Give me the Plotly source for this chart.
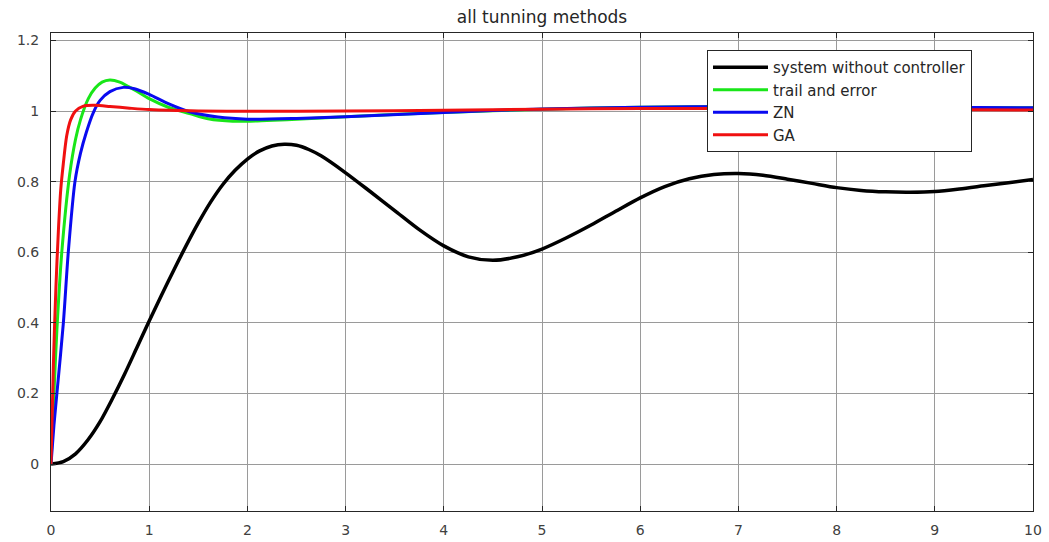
import plotly.graph_objects as go

# ---- data ----
t_open = [0, 0.125, 0.25, 0.375, 0.5, 0.625, 0.75, 0.875, 1.0, 1.125, 1.25, 1.375, 1.5,
          1.625, 1.75, 1.875, 2.0, 2.125, 2.25, 2.375, 2.5, 2.625, 2.75, 3.0, 3.25, 3.5,
          3.75, 4.0, 4.25, 4.5, 4.75, 5.0, 5.25, 5.5, 5.75, 6.0, 6.25, 6.5, 6.75, 7.0,
          7.25, 7.5, 7.75, 8.0, 8.25, 8.5, 8.75, 9.0, 9.25, 9.5, 9.75, 10]
y_open = [0, 0.007, 0.029, 0.068, 0.12, 0.185, 0.255, 0.33, 0.405, 0.478, 0.549, 0.618,
          0.683, 0.742, 0.792, 0.832, 0.864, 0.887, 0.901, 0.906, 0.903, 0.891, 0.873,
          0.825, 0.772, 0.718, 0.664, 0.618, 0.587, 0.577, 0.587, 0.609, 0.641, 0.677,
          0.716, 0.754, 0.786, 0.808, 0.82, 0.823, 0.818, 0.807, 0.795, 0.783, 0.775,
          0.771, 0.770, 0.772, 0.779, 0.788, 0.797, 0.806]

t_trial = [0, 0.03, 0.06, 0.11, 0.19, 0.25, 0.3, 0.38, 0.45, 0.52, 0.6, 0.7, 0.85, 1.0, 1.2,
           1.41, 1.6, 1.85, 2.2, 2.6, 3.0, 4.0, 5.0, 6.0, 7.0, 8.0, 9.0, 10]
y_trial = [0, 0.2, 0.38, 0.6, 0.82, 0.92, 0.975, 1.035, 1.065, 1.082, 1.088, 1.082, 1.06,
           1.035, 1.01, 0.993, 0.978, 0.971, 0.973, 0.978, 0.984, 0.996, 1.005, 1.011,
           1.013, 1.012, 1.01, 1.009]

t_zn = [0, 0.03, 0.06, 0.126, 0.176, 0.244, 0.3, 0.36, 0.43, 0.5, 0.6, 0.736, 0.85, 1.0,
        1.2, 1.41, 1.7, 2.0, 2.5, 3.0, 4.0, 5.0, 6.0, 7.0, 8.0, 9.0, 10]
y_zn = [0, 0.11, 0.2, 0.4, 0.6, 0.8, 0.88, 0.94, 0.995, 1.03, 1.055, 1.067, 1.063, 1.047,
        1.02, 0.998, 0.983, 0.977, 0.979, 0.984, 0.996, 1.006, 1.011, 1.013, 1.013, 1.011,
        1.009]

t_ga = [0, 0.024, 0.05, 0.075, 0.1, 0.125, 0.16, 0.2, 0.25, 0.33, 0.45, 0.6, 0.8, 1.0,
        1.5, 2.0, 3.0, 4.0, 5.0, 6.0, 7.0, 8.0, 9.0, 10]
y_ga = [0, 0.28, 0.5, 0.66, 0.78, 0.85, 0.93, 0.975, 1.0, 1.014, 1.016, 1.013, 1.008,
        1.004, 1.0, 0.999, 1.0, 1.002, 1.005, 1.007, 1.007, 1.006, 1.004, 1.003]

series_names = ["system without controller", "trail and error", "ZN", "GA"]
series_colors = ["#000000", "#19e619", "#0a0af0", "#f01010"]
series_widths = [3.5, 3, 3, 3]

x_ticks = [0, 1, 2, 3, 4, 5, 6, 7, 8, 9, 10]
y_ticks = [0, 0.2, 0.4, 0.6, 0.8, 1.0, 1.2]
y_tick_text = ["0", "0.2", "0.4", "0.6", "0.8", "1", "1.2"]

title_text = "all tunning methods"

FONT = "DejaVu Sans"

fig = go.Figure()
for t, y, name, col, w in zip([t_open, t_trial, t_zn, t_ga], [y_open, y_trial, y_zn, y_ga],
                              series_names, series_colors, series_widths):
    fig.add_trace(go.Scatter(x=t, y=y, mode="lines", name=name,
                             line=dict(color=col, width=w, shape="spline", smoothing=0.8)))

W, H = 1049, 542
ml, mr, mt, mb = 51, 16, 33, 31
plot_w = W - ml - mr
plot_h = H - mt - mb

axis_common = dict(
    showline=True, linecolor="#262626", linewidth=1, mirror="ticks",
    ticks="inside", ticklen=5, tickcolor="#262626",
    showgrid=True, gridcolor="#9a9a9a", gridwidth=1,
    zeroline=False, automargin=False,
    tickfont=dict(family=FONT, size=14, color="#404040"),
)

fig.update_layout(
    width=W, height=H,
    margin=dict(l=ml, r=mr, t=mt, b=mb, autoexpand=False),
    paper_bgcolor="white", plot_bgcolor="white",
    title=dict(text=title_text, x=(ml + plot_w / 2) / W, xanchor="center",
               y=1 - 17 / H, yanchor="middle", yref="container", xref="container",
               font=dict(family=FONT, size=17, color="#262626")),
    xaxis=dict(range=[0, 10], tickvals=x_ticks, ticklabelstandoff=6, **axis_common),
    yaxis=dict(range=[-0.133, 1.221], tickvals=y_ticks, ticktext=y_tick_text,
               ticklabelstandoff=8, **axis_common),
    legend=dict(x=(707 - ml) / plot_w, y=1 - 17 / plot_h, xanchor="left", yanchor="top",
                bgcolor="white", bordercolor="#262626", borderwidth=1,
                font=dict(family=FONT, size=15, color="#262626"),
                itemwidth=55, tracegroupgap=0),
    showlegend=True,
)

fig.write_html("out.html", config={"displayModeBar": False},
               post_script="document.body.style.margin='0px';")
